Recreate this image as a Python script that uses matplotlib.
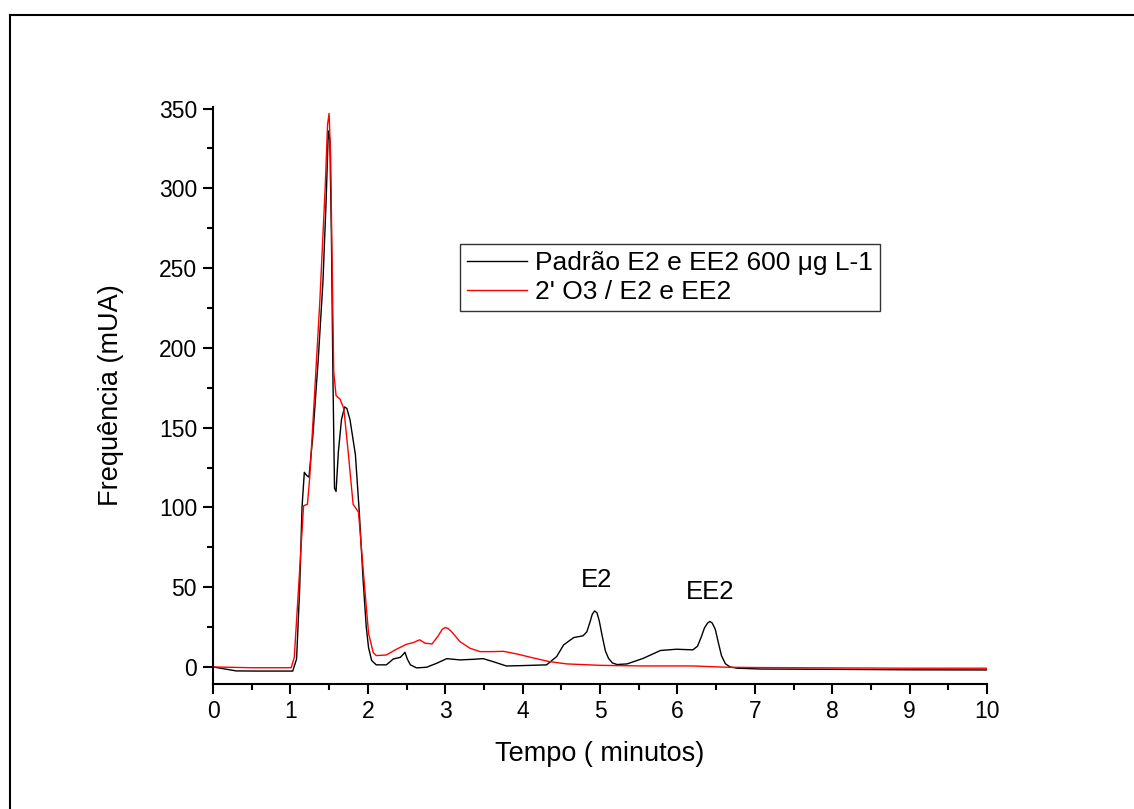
import matplotlib
matplotlib.use("Agg")
import matplotlib.pyplot as plt
from matplotlib.lines import Line2D
from matplotlib.ticker import MultipleLocator

plt.rcParams['font.family'] = ['Liberation Sans', 'DejaVu Sans']

tempo_padrao = [0.0, 0.3, 0.6, 1.03, 1.08, 1.12, 1.15, 1.18, 1.21, 1.24, 1.29, 1.36, 1.42,
                1.46, 1.49, 1.51, 1.53, 1.55, 1.57, 1.59, 1.62, 1.66, 1.70, 1.73, 1.77,
                1.84, 1.89, 1.94, 1.98, 2.01, 2.05, 2.11, 2.24, 2.33, 2.42, 2.46, 2.48,
                2.51, 2.55, 2.63, 2.76, 2.89, 3.02, 3.19, 3.37, 3.49, 3.62, 3.79, 3.97,
                4.31, 4.44, 4.53, 4.66, 4.78, 4.83, 4.87, 4.90, 4.93, 4.96, 4.99, 5.03,
                5.07, 5.11, 5.16, 5.22, 5.35, 5.56, 5.78, 5.99, 6.20, 6.26, 6.31, 6.35,
                6.39, 6.42, 6.45, 6.49, 6.53, 6.57, 6.62, 6.68, 6.77, 7.07, 8.0, 9.0, 10.0]
sinal_padrao = [0.0, -2.5, -2.6, -2.6, 5, 49.6, 100, 122, 120, 119, 145, 193, 241,
                290, 336, 330, 270, 180, 112, 110, 135, 155, 163, 162, 155,
                133, 97, 54, 25, 12, 4, 1.3, 1.3, 5, 6, 8, 9.2,
                5, 1.3, -0.6, -0.2, 2.3, 5.2, 4.4, 4.8, 5.2, 3.3, 0.6, 0.8,
                1.3, 6.5, 13.8, 18.4, 19.5, 22, 28, 33, 35.1, 34, 29, 19,
                10, 5.4, 2.5, 1.5, 1.9, 5.4, 10.3, 11.1, 10.7, 13, 19, 24.5,
                27.5, 28.5, 27.5, 23.5, 15, 7, 2, 0, -0.8, -1.3, -1.5, -1.8, -1.9]

tempo_o3 = [0.0, 0.5, 1.01, 1.05, 1.12, 1.17, 1.22, 1.25, 1.31, 1.38, 1.45, 1.48,
            1.50, 1.52, 1.54, 1.56, 1.59, 1.64, 1.69, 1.75, 1.81, 1.88, 1.94, 2.01,
            2.07, 2.11, 2.24, 2.37, 2.50, 2.59, 2.67, 2.74, 2.83, 2.91, 2.96, 3.00,
            3.04, 3.08, 3.19, 3.32, 3.45, 3.62, 3.75, 3.92, 4.14, 4.35, 4.57, 5.0,
            5.56, 6.2, 6.64, 7.07, 8.0, 9.0, 10.0]
sinal_o3 = [0.0, -0.5, -0.5, 6, 61, 101, 102, 119, 169, 229, 301, 340,
            347, 320, 250, 185, 170, 168, 162, 133, 102, 97, 61, 21,
            9, 7.1, 7.5, 11.1, 14.2, 15.3, 17, 14.9, 14.4, 19.5, 23.5, 24.7,
            24, 22.2, 15.9, 11.7, 9.6, 9.6, 9.8, 8.2, 5.6, 3.3, 1.9, 1.0,
            0.6, 0.6, -0.2, -0.4, -0.6, -0.8, -0.8]

rotulos = ["Padrão E2 e EE2 600 μg L-1", "2' O3 / E2 e EE2"]
picos = [("E2", 4.96, 54.5), ("EE2", 6.42, 47)]

W, H = 1134, 809
fig = plt.figure(figsize=(W / 100, H / 100), dpi=100)
ax = fig.add_axes([213 / W, 1 - 684 / H, (987 - 213) / W, (684 - 107) / H])

ax.plot(tempo_padrao, sinal_padrao, color="black", lw=1.0, label=rotulos[0])
ax.plot(tempo_o3, sinal_o3, color="red", lw=1.0, label=rotulos[1])

for nome, x, y in picos:
    ax.text(x, y, nome, fontsize=18.5, ha="center", va="center")

ax.set_xlim(0, 10)
ax.set_ylim(-10.7, 351)
ax.xaxis.set_major_locator(MultipleLocator(1))
ax.xaxis.set_minor_locator(MultipleLocator(0.5))
ax.yaxis.set_major_locator(MultipleLocator(50))
ax.yaxis.set_minor_locator(MultipleLocator(25))

for lado in ["top", "right"]:
    ax.spines[lado].set_visible(False)
for lado in ["left", "bottom"]:
    ax.spines[lado].set_linewidth(1.5)

ax.tick_params(which="major", direction="out", length=7.5, width=1.5, labelsize=16.5, pad=4)
ax.tick_params(which="minor", direction="out", length=4, width=1.5)

ax.set_xlabel("Tempo ( minutos)", fontsize=19.5, labelpad=13)
ax.set_ylabel("Frequência (mUA)", fontsize=19.5, labelpad=25)

leg = ax.legend(loc="upper left", bbox_to_anchor=(0.319, 0.762), borderaxespad=0,
                fontsize=19, frameon=True, fancybox=False, handlelength=2.3,
                handletextpad=0.3, borderpad=0.25, labelspacing=0.2)
leg.get_frame().set_edgecolor("black")
leg.get_frame().set_linewidth(1.0)

# moldura da figura (so esquerda e topo aparecem)
fig.add_artist(Line2D([10 / W, 10 / W], [0, 1 - 15 / H], color="black", lw=1.5,
                      transform=fig.transFigure))
fig.add_artist(Line2D([10 / W, 1], [1 - 15 / H, 1 - 15 / H], color="black", lw=1.5,
                      transform=fig.transFigure))

fig.savefig("out.png", dpi=100)
